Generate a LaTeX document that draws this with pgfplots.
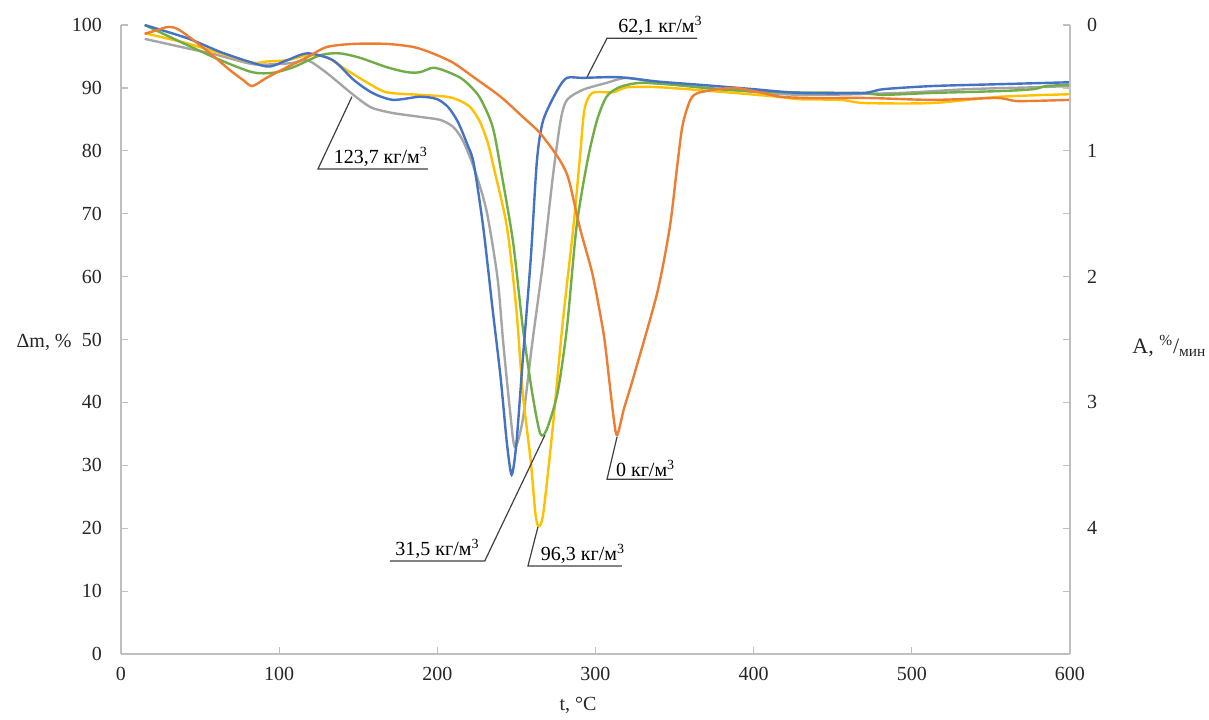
\documentclass[border=0pt]{standalone}
\usepackage{fontspec}
\setmainfont{Liberation Serif}
\usepackage{pgfplots}
\pgfplotsset{compat=1.18}
\definecolor{cblue}{HTML}{4472C4}
\definecolor{corange}{HTML}{ED7D31}
\definecolor{cgray}{HTML}{A5A5A5}
\definecolor{cyellow}{HTML}{FFC000}
\definecolor{cgreen}{HTML}{70AD47}
\definecolor{axisgray}{HTML}{BFBFBF}
\definecolor{leadc}{HTML}{404040}
\pgfplotsset{
  common/.style={
    scale only axis, width=474.5pt, height=314.5pt,
    xmin=0, xmax=600,
    axis line style={draw=axisgray, line width=0.8pt, -},
    tick style={draw=axisgray, line width=0.6pt},
    major tick length=3.5pt, minor tick length=3.5pt,
    tick align=inside,
    tick label style={font=\fontsize{10}{12}\selectfont, text=black!85},
    /pgf/number format/assume math mode=true,
    clip=false,
  },
  crv/.style={line width=1.2pt, smooth, tension=0.45, mark=none},
}
\pgfplotstableread{
T V
15 100
42 97.9
63 95.7
83 94.0
94 93.4
105 94.4
118 95.5
134 94.4
147 91.3
159 89.2
172 88.1
189 88.6
200 88.2
207 86.9
213 84.6
219 81.0
223 78.0
229 67.9
235 54.7
240 44.0
244 33.5
247 28.5
250 33.5
254 46.7
259 62.6
263 78.5
267 84.9
276 89.7
282 91.6
292 91.6
315 91.7
340 91.0
366 90.5
400 89.8
429 89.2
469 89.2
482 89.8
513 90.3
556 90.6
600 90.9
}\blue
\pgfplotstableread{
T V
15 97.8
40 96.4
60 95.3
83 93.8
100 93.8
109 94.0
118 94.4
130 92.4
143 89.7
151 88.1
159 86.8
172 86.0
189 85.4
202 84.9
210 83.8
216 81.7
223 77.4
231 70.6
238 59.9
241.7 49.4
245.9 38.8
249 32.9
254 37.2
260 49.4
267 62.6
273 75.8
278 84.9
282 88.1
292 89.7
307 90.8
320 91.6
340 90.8
380 89.8
429 88.9
492 89.2
535 89.8
577 90.1
600 90.3
}\gray
\pgfplotstableread{
T V
15 98.7
40 97.2
63 95.5
83 94.0
92 94.2
105 94.4
118 95.2
130 94.9
143 92.8
156 90.8
168 89.3
189 88.9
206 88.6
214 88.0
221 86.9
227 84.6
232 81.2
236 77.0
244 67.9
250 54.7
254 41.5
259 30.8
262 22.4
264 20.3
267 22.4
273 36.1
279 52.0
286 67.9
290 78.5
293 86.5
298 89.2
311 89.3
320 90.1
341 90.1
383 89.3
415 88.6
429 88.2
455 88.1
470 87.6
513 87.6
556 88.6
600 89.0
}\yellow
\pgfplotstableread{
T V
15 100
42 96.8
63 94.4
83 92.5
96 92.4
109 93.3
126 95.2
138 95.5
151 94.8
168 93.3
181 92.5
189 92.5
197 93.2
204 92.8
214 91.7
220 90.5
227 88.4
235 83.8
241 75.8
248 65.3
254 52.0
260 41.5
265 35.1
269 35.6
276 41.5
282 52.0
288 67.9
295 78.5
301 84.9
307 88.6
315 90.1
328 90.8
349 90.5
383 89.7
425 89.3
467 89.2
482 88.9
513 89.2
556 89.5
577 89.8
585 90.3
600 90.5
}\green
\pgfplotstableread{
T V
15 98.6
23 99.2
30 99.7
37 99.2
54 96.0
69 92.8
77 91.3
83 90.3
92 91.6
105 93.3
118 94.9
130 96.5
147 97.0
168 97.0
185 96.5
197 95.5
210 94.0
223 91.7
240 88.6
254 85.4
265 82.8
277 78.7
283 75.5
290 67.9
298 60.5
303 54.0
306 49.4
311 38.5
313.6 34.8
318 39.0
324 44.0
339 57.4
347 67.9
351.4 77.0
355 84.0
360 88.1
366 89.3
387 90.0
404 89.3
417 88.6
436 88.4
472 88.4
513 88.1
552 88.4
560 88.2
568 87.9
600 88.1
}\orange
\begin{document}
\begin{tikzpicture}
\begin{axis}[common,
  ymin=0, ymax=100,
  axis x line*=bottom, axis y line*=left,
  xtick={0,100,...,600}, ytick={0,10,...,100},
  xticklabel style={yshift=-3pt},
  yticklabel style={xshift=-6pt},
]
\path (rel axis cs:-0.1275,-0.1017) rectangle (rel axis cs:1.1465,1.0398);
\addplot[crv, cgray] table[x=T,y=V] {\gray};
\addplot[crv, cyellow] table[x=T,y=V] {\yellow};
\addplot[crv, cgreen] table[x=T,y=V] {\green};
\addplot[crv, cblue] table[x=T,y=V] {\blue};
\addplot[crv, corange] table[x=T,y=V] {\orange};
% callouts
\draw[leadc, line width=0.6pt] (axis cs:146,88.6) -- (axis cs:124.5,77.1) -- (axis cs:194,77.1);
\node[anchor=south west, inner sep=1pt, font=\fontsize{10}{12}\selectfont] at (axis cs:133,77.1) {123,7 кг/м\textsuperscript{3}};
\draw[leadc, line width=0.6pt] (axis cs:294.6,91.7) -- (axis cs:307.3,97.9) -- (axis cs:364.2,97.9);
\node[anchor=south west, inner sep=1pt, font=\fontsize{10}{12}\selectfont] at (axis cs:313,97.9) {62,1 кг/м\textsuperscript{3}};
\draw[leadc, line width=0.6pt] (axis cs:268,34.8) -- (axis cs:230,14.8) -- (axis cs:170,14.8);
\node[anchor=south west, inner sep=1pt, font=\fontsize{10}{12}\selectfont] at (axis cs:172,14.8) {31,5 кг/м\textsuperscript{3}};
\draw[leadc, line width=0.6pt] (axis cs:263.6,20.2) -- (axis cs:257.3,14) -- (axis cs:316.7,14);
\node[anchor=south west, inner sep=1pt, font=\fontsize{10}{12}\selectfont] at (axis cs:264,14) {96,3 кг/м\textsuperscript{3}};
\draw[leadc, line width=0.6pt] (axis cs:313.6,34.5) -- (axis cs:307.3,27.8) -- (axis cs:349,27.8);
\node[anchor=south west, inner sep=1pt, font=\fontsize{10}{12}\selectfont] at (axis cs:311.5,27.8) {0 кг/м\textsuperscript{3}};
% axis labels
\node[font=\fontsize{10}{12}\selectfont, text=black!85] at (rel axis cs:-0.081,0.496) {Δm, \%};
\node[font=\fontsize{10}{12}\selectfont, text=black!85] at (rel axis cs:0.4816,-0.081) {t, °C};
\node[anchor=west, font=\fontsize{11}{12}\selectfont, text=black!85, inner sep=0pt] at (rel axis cs:1.0653,0.49) {A, \textsuperscript{\%}/\textsubscript{мин}};
\end{axis}
\begin{axis}[common,
  ymin=0, ymax=5, y dir=reverse,
  hide x axis, axis y line*=right,
  ytick={0,1,2,3,4}, minor ytick={0.5,1.5,2.5,3.5,4.5},
  yticklabel style={xshift=5pt},
]
\end{axis}
\end{tikzpicture}
\end{document}
